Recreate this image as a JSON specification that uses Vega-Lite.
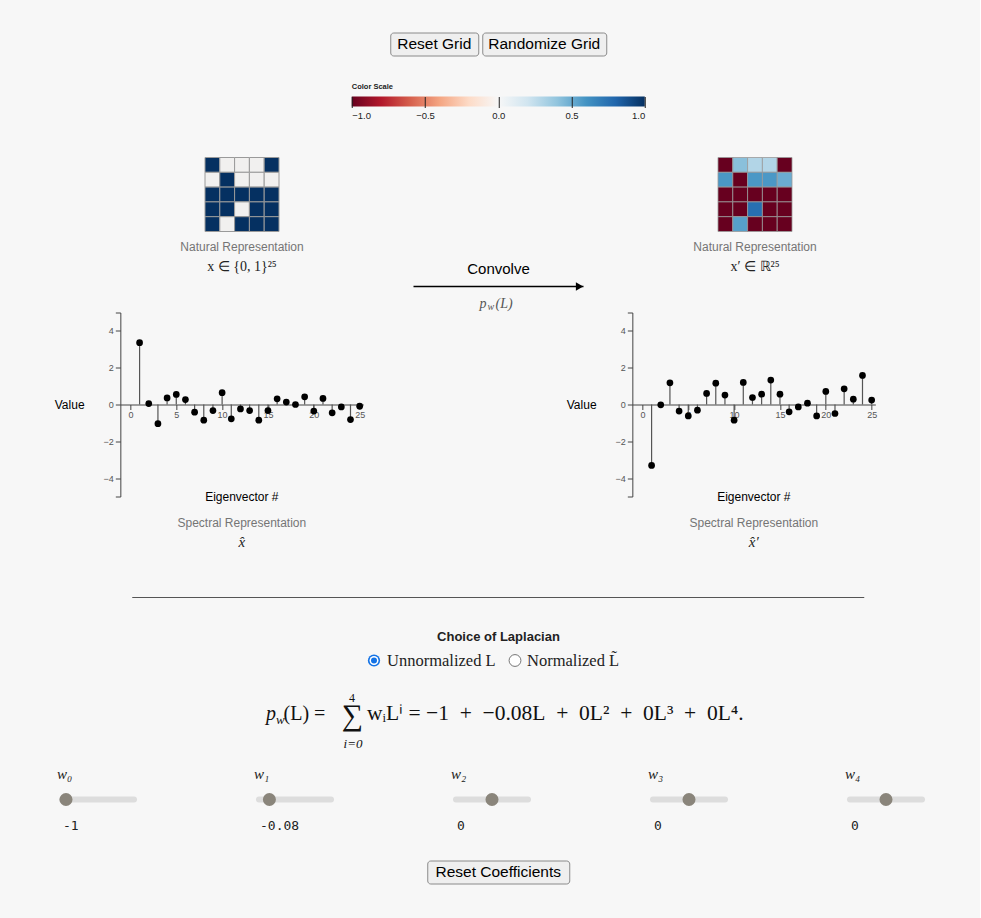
{
  "$schema": "https://vega.github.io/schema/vega-lite/v6.json",
  "background": "#f7f7f7",
  "padding": {"left": 54, "top": 31.5, "right": 42, "bottom": 34},
  "config": {
    "view": {"stroke": null},
    "font": "Liberation Sans",
    "axis": {"labelFont": "Liberation Sans", "titleFont": "Liberation Sans", "grid": false, "labelOverlap": false}
  },
  "vconcat": [
    {
      "hconcat": [
        {
          "width": 88, "height": 23,
          "view": {"fill": "#efefef", "stroke": "#8a8a8a", "cornerRadius": 3, "strokeWidth": 1},
          "data": {"values": [{"label": "Reset Grid"}]},
          "mark": {"type": "text", "fontSize": 15.5, "color": "#000"},
          "encoding": {"text": {"field": "label"}}
        },
        {
          "width": 124, "height": 23,
          "view": {"fill": "#efefef", "stroke": "#8a8a8a", "cornerRadius": 3, "strokeWidth": 1},
          "data": {"values": [{"label": "Randomize Grid"}]},
          "mark": {"type": "text", "fontSize": 15.5, "color": "#000"},
          "encoding": {"text": {"field": "label"}}
        }
      ],
      "spacing": 4, "bounds": "flush"
    },
    {
      "vconcat": [
        {
          "width": 293, "height": 10,
          "title": {"text": "Color Scale", "anchor": "start", "fontSize": 7.5, "fontWeight": "bold", "color": "#222", "offset": 6, "frame": "group"},
          "data": {"values": [{"lo": -1, "hi": 1}]},
          "mark": {"type": "rect", "fill": {"gradient": "linear", "x1": 0, "y1": 0, "x2": 1, "y2": 0, "stops": [
            {"offset": 0, "color": "#67001f"}, {"offset": 0.1, "color": "#b2182b"}, {"offset": 0.2, "color": "#d6604d"},
            {"offset": 0.3, "color": "#f4a582"}, {"offset": 0.4, "color": "#fddbc7"}, {"offset": 0.5, "color": "#f7f7f7"},
            {"offset": 0.6, "color": "#d1e5f0"}, {"offset": 0.7, "color": "#92c5de"}, {"offset": 0.8, "color": "#4393c3"},
            {"offset": 0.9, "color": "#2166ac"}, {"offset": 1, "color": "#053061"}]}},
          "encoding": {
            "x": {"field": "lo", "type": "quantitative", "scale": {"domain": [-1, 1], "nice": false},
                  "axis": {"values": [-1, -0.5, 0, 0.5, 1], "format": ".1f", "offset": -10, "tickSize": 11, "tickColor": "#222", "domain": false, "labelFontSize": 9.5, "labelColor": "#222", "title": null, "zindex": 1, "labelPadding": 3}},
            "x2": {"field": "hi"}
          }
        },
        {
          "vconcat": [
            {
              "hconcat": [
                {
                  "width": 127, "height": 74,
                  "title": {"text": "Natural Representation", "subtitle": "x ∈ {0, 1}²⁵", "orient": "bottom", "frame": "group", "offset": 10, "fontSize": 12, "fontWeight": "normal", "color": "#757575", "subtitleFont": "Liberation Serif", "subtitleFontSize": 14, "subtitleColor": "#222", "subtitlePadding": 6},
                  "data": {"values": [
                    {"r": 0, "c": 0, "v": 1}, {"r": 0, "c": 1, "v": 0}, {"r": 0, "c": 2, "v": 0}, {"r": 0, "c": 3, "v": 0}, {"r": 0, "c": 4, "v": 1},
                    {"r": 1, "c": 0, "v": 0}, {"r": 1, "c": 1, "v": 1}, {"r": 1, "c": 2, "v": 0}, {"r": 1, "c": 3, "v": 0}, {"r": 1, "c": 4, "v": 0},
                    {"r": 2, "c": 0, "v": 1}, {"r": 2, "c": 1, "v": 1}, {"r": 2, "c": 2, "v": 1}, {"r": 2, "c": 3, "v": 1}, {"r": 2, "c": 4, "v": 1},
                    {"r": 3, "c": 0, "v": 1}, {"r": 3, "c": 1, "v": 1}, {"r": 3, "c": 2, "v": 0}, {"r": 3, "c": 3, "v": 1}, {"r": 3, "c": 4, "v": 1},
                    {"r": 4, "c": 0, "v": 1}, {"r": 4, "c": 1, "v": 0}, {"r": 4, "c": 2, "v": 1}, {"r": 4, "c": 3, "v": 1}, {"r": 4, "c": 4, "v": 1}
                  ]},
                  "mark": {"type": "rect", "stroke": "#9a9a9a", "strokeWidth": 1},
                  "encoding": {
                    "x": {"field": "c", "type": "ordinal", "axis": null, "scale": {"range": [26.5, 100.5]}},
                    "y": {"field": "r", "type": "ordinal", "axis": null},
                    "color": {"field": "v", "type": "quantitative", "scale": {"domain": [-1, -0.8, -0.6, -0.4, -0.2, 0, 0.2, 0.4, 0.6, 0.8, 1], "range": ["#67001f", "#b2182b", "#d6604d", "#f4a582", "#fddbc7", "#f1f0ef", "#d1e5f0", "#92c5de", "#4393c3", "#2166ac", "#053061"], "interpolate": "rgb", "clamp": true}, "legend": null}
                  }
                },
                {
                  "width": 170, "height": 129,
                  "data": {"values": [{}]},
                  "layer": [
                    {
                      "mark": {"type": "rule", "color": "#000", "strokeWidth": 1.3},
                      "encoding": {
                        "x": {"datum": 0, "type": "quantitative", "scale": {"domain": [0, 1], "nice": false}, "axis": null},
                        "x2": {"datum": 1},
                        "y": {"datum": 0, "type": "quantitative", "scale": {"domain": [0, 1], "nice": false}, "axis": null}
                      }
                    },
                    {
                      "mark": {"type": "point", "shape": "triangle-right", "filled": true, "color": "#000", "size": 70, "opacity": 1, "xOffset": -4},
                      "encoding": {"x": {"datum": 1, "type": "quantitative"}, "y": {"datum": 0, "type": "quantitative"}}
                    },
                    {
                      "mark": {"type": "text", "text": "Convolve", "fontSize": 15, "color": "#000", "baseline": "middle"},
                      "encoding": {"x": {"datum": 0.5, "type": "quantitative"}, "y": {"datum": 0.1395, "type": "quantitative"}}
                    },
                    {
                      "mark": {"type": "text", "text": "p", "align": "left", "dx": -19, "font": "Liberation Serif", "fontStyle": "italic", "fontSize": 14, "color": "#555", "baseline": "middle"},
                      "encoding": {"x": {"datum": 0.5, "type": "quantitative"}, "y": {"datum": -0.132, "type": "quantitative"}}
                    },
                    {
                      "mark": {"type": "text", "text": "w", "align": "left", "dx": -11, "dy": 3, "font": "Liberation Serif", "fontStyle": "italic", "fontSize": 10, "color": "#555", "baseline": "middle"},
                      "encoding": {"x": {"datum": 0.5, "type": "quantitative"}, "y": {"datum": -0.132, "type": "quantitative"}}
                    },
                    {
                      "mark": {"type": "text", "text": "(L)", "align": "left", "dx": -3, "font": "Liberation Serif", "fontStyle": "italic", "fontSize": 14, "color": "#555", "baseline": "middle"},
                      "encoding": {"x": {"datum": 0.5, "type": "quantitative"}, "y": {"datum": -0.132, "type": "quantitative"}}
                    }
                  ]
                },
                {
                  "width": 127, "height": 74,
                  "title": {"text": "Natural Representation", "subtitle": "x′ ∈ ℝ²⁵", "orient": "bottom", "frame": "group", "offset": 10, "fontSize": 12, "fontWeight": "normal", "color": "#757575", "subtitleFont": "Liberation Serif", "subtitleFontSize": 14, "subtitleColor": "#222", "subtitlePadding": 6},
                  "data": {"values": [
                    {"r": 0, "c": 0, "v": -1.2}, {"r": 0, "c": 1, "v": 0.42}, {"r": 0, "c": 2, "v": 0.3}, {"r": 0, "c": 3, "v": 0.3}, {"r": 0, "c": 4, "v": -1.2},
                    {"r": 1, "c": 0, "v": 0.58}, {"r": 1, "c": 1, "v": -1.2}, {"r": 1, "c": 2, "v": 0.58}, {"r": 1, "c": 3, "v": 0.58}, {"r": 1, "c": 4, "v": 0.5},
                    {"r": 2, "c": 0, "v": -1.2}, {"r": 2, "c": 1, "v": -1.2}, {"r": 2, "c": 2, "v": -1.2}, {"r": 2, "c": 3, "v": -1.2}, {"r": 2, "c": 4, "v": -1.2},
                    {"r": 3, "c": 0, "v": -1.2}, {"r": 3, "c": 1, "v": -1.2}, {"r": 3, "c": 2, "v": 0.76}, {"r": 3, "c": 3, "v": -1.2}, {"r": 3, "c": 4, "v": -1.2},
                    {"r": 4, "c": 0, "v": -1.2}, {"r": 4, "c": 1, "v": 0.55}, {"r": 4, "c": 2, "v": -1.2}, {"r": 4, "c": 3, "v": -1.2}, {"r": 4, "c": 4, "v": -1.2}
                  ]},
                  "mark": {"type": "rect", "stroke": "#9a9a9a", "strokeWidth": 1, "strokeOpacity": 0.8},
                  "encoding": {
                    "x": {"field": "c", "type": "ordinal", "axis": null, "scale": {"range": [26.5, 100.5]}},
                    "y": {"field": "r", "type": "ordinal", "axis": null},
                    "color": {"field": "v", "type": "quantitative", "scale": {"domain": [-1, -0.8, -0.6, -0.4, -0.2, 0, 0.2, 0.4, 0.6, 0.8, 1], "range": ["#67001f", "#b2182b", "#d6604d", "#f4a582", "#fddbc7", "#f1f0ef", "#d1e5f0", "#92c5de", "#4393c3", "#2166ac", "#053061"], "interpolate": "rgb", "clamp": true}, "legend": null}
                  }
                }
              ],
              "spacing": 108, "bounds": "flush"
            },
            {
              "vconcat": [
                {
                  "hconcat": [
                    {
                      "width": 243, "height": 184,
                      "title": {"text": "Spectral Representation", "subtitle": "x̂", "orient": "bottom", "frame": "group", "offset": 15, "fontSize": 12, "fontWeight": "normal", "color": "#757575", "subtitleFont": "Liberation Serif", "subtitleFontSize": 15, "subtitleFontStyle": "italic", "subtitleColor": "#222", "subtitlePadding": 5},
                      "data": {"values": [
                        {"k": 1, "v": 3.36}, {"k": 2, "v": 0.05}, {"k": 3, "v": -1.04}, {"k": 4, "v": 0.36}, {"k": 5, "v": 0.55},
                        {"k": 6, "v": 0.27}, {"k": 7, "v": -0.42}, {"k": 8, "v": -0.85}, {"k": 9, "v": -0.33}, {"k": 10, "v": 0.64},
                        {"k": 11, "v": -0.78}, {"k": 12, "v": -0.24}, {"k": 13, "v": -0.33}, {"k": 14, "v": -0.85}, {"k": 15, "v": -0.33},
                        {"k": 16, "v": 0.31}, {"k": 17, "v": 0.13}, {"k": 18, "v": 0.0}, {"k": 19, "v": 0.42}, {"k": 20, "v": -0.36},
                        {"k": 21, "v": 0.33}, {"k": 22, "v": -0.45}, {"k": 23, "v": -0.13}, {"k": 24, "v": -0.82}, {"k": 25, "v": -0.09}
                      ]},
                      "layer": [
                        {
                          "mark": {"type": "rule", "color": "#555", "strokeWidth": 1.2},
                          "encoding": {
                            "x": {"field": "k", "type": "quantitative", "scale": {"domain": [-1.1, 25.4], "nice": false, "zero": false},
                                  "axis": {"values": [0, 5, 10, 15, 20, 25], "offset": -92, "tickSize": 5, "domainColor": "#444", "tickColor": "#444", "labelColor": "#555", "labelFontSize": 9, "title": null, "labelPadding": 1, "labelFlush": false, "labelOverlap": false}},
                            "y": {"field": "v", "type": "quantitative", "scale": {"domain": [-5, 5], "nice": false},
                                  "axis": {"values": [-5, -4, -2, 0, 2, 4, 5], "labelExpr": "abs(datum.value) == 5 ? '' : datum.label", "labelOverlap": false, "tickSize": 5, "domainColor": "#444", "tickColor": "#444", "labelColor": "#555", "labelFontSize": 9, "title": "Value", "titleAngle": 0, "titleAlign": "right", "titleBaseline": "middle", "titleFontSize": 12, "titleFontWeight": "normal", "titleColor": "#000", "titlePadding": 19}},
                            "y2": {"datum": 0}
                          }
                        },
                        {
                          "mark": {"type": "point", "filled": true, "color": "#000", "size": 45, "opacity": 1},
                          "encoding": {
                            "x": {"field": "k", "type": "quantitative"},
                            "y": {"field": "v", "type": "quantitative",
                                  "axis": {"values": [-5, -4, -2, 0, 2, 4, 5], "labelExpr": "abs(datum.value) == 5 ? '' : datum.label", "labelOverlap": false, "tickSize": 5, "domainColor": "#444", "tickColor": "#444", "labelColor": "#555", "labelFontSize": 9, "title": "Value", "titleAngle": 0, "titleAlign": "right", "titleBaseline": "middle", "titleFontSize": 12, "titleFontWeight": "normal", "titleColor": "#000", "titlePadding": 19}}
                          }
                        },
                        {
                          "data": {"values": [{"t": "Eigenvector #"}]},
                          "mark": {"type": "text", "fontSize": 12, "color": "#000", "baseline": "middle"},
                          "encoding": {
                            "x": {"datum": 12.15},
                            "y": {"datum": -5,
                                  "axis": {"values": [-5, -4, -2, 0, 2, 4, 5], "labelExpr": "abs(datum.value) == 5 ? '' : datum.label", "labelOverlap": false, "tickSize": 5, "domainColor": "#444", "tickColor": "#444", "labelColor": "#555", "labelFontSize": 9, "title": "Value", "titleAngle": 0, "titleAlign": "right", "titleBaseline": "middle", "titleFontSize": 12, "titleFontWeight": "normal", "titleColor": "#000", "titlePadding": 19}},
                            "text": {"field": "t"}
                          }
                        }
                      ]
                    },
                    {
                      "width": 243, "height": 184,
                      "title": {"text": "Spectral Representation", "subtitle": "x̂′", "orient": "bottom", "frame": "group", "offset": 15, "fontSize": 12, "fontWeight": "normal", "color": "#757575", "subtitleFont": "Liberation Serif", "subtitleFontSize": 15, "subtitleFontStyle": "italic", "subtitleColor": "#222", "subtitlePadding": 5},
                      "data": {"values": [
                        {"k": 1, "v": -3.31}, {"k": 2, "v": -0.02}, {"k": 3, "v": 1.18}, {"k": 4, "v": -0.36}, {"k": 5, "v": -0.62},
                        {"k": 6, "v": -0.31}, {"k": 7, "v": 0.6}, {"k": 8, "v": 1.16}, {"k": 9, "v": 0.51}, {"k": 10, "v": -0.85},
                        {"k": 11, "v": 1.2}, {"k": 12, "v": 0.38}, {"k": 13, "v": 0.56}, {"k": 14, "v": 1.33}, {"k": 15, "v": 0.56},
                        {"k": 16, "v": -0.4}, {"k": 17, "v": -0.13}, {"k": 18, "v": 0.07}, {"k": 19, "v": -0.62}, {"k": 20, "v": 0.71},
                        {"k": 21, "v": -0.49}, {"k": 22, "v": 0.85}, {"k": 23, "v": 0.29}, {"k": 24, "v": 1.58}, {"k": 25, "v": 0.24}
                      ]},
                      "layer": [
                        {
                          "mark": {"type": "rule", "color": "#555", "strokeWidth": 1.2},
                          "encoding": {
                            "x": {"field": "k", "type": "quantitative", "scale": {"domain": [-1.1, 25.4], "nice": false, "zero": false},
                                  "axis": {"values": [0, 5, 10, 15, 20, 25], "offset": -92, "tickSize": 5, "domainColor": "#444", "tickColor": "#444", "labelColor": "#555", "labelFontSize": 9, "title": null, "labelPadding": 1, "labelFlush": false, "labelOverlap": false}},
                            "y": {"field": "v", "type": "quantitative", "scale": {"domain": [-5, 5], "nice": false},
                                  "axis": {"values": [-5, -4, -2, 0, 2, 4, 5], "labelExpr": "abs(datum.value) == 5 ? '' : datum.label", "labelOverlap": false, "tickSize": 5, "domainColor": "#444", "tickColor": "#444", "labelColor": "#555", "labelFontSize": 9, "title": "Value", "titleAngle": 0, "titleAlign": "right", "titleBaseline": "middle", "titleFontSize": 12, "titleFontWeight": "normal", "titleColor": "#000", "titlePadding": 19}},
                            "y2": {"datum": 0}
                          }
                        },
                        {
                          "mark": {"type": "point", "filled": true, "color": "#000", "size": 45, "opacity": 1},
                          "encoding": {
                            "x": {"field": "k", "type": "quantitative"},
                            "y": {"field": "v", "type": "quantitative",
                                  "axis": {"values": [-5, -4, -2, 0, 2, 4, 5], "labelExpr": "abs(datum.value) == 5 ? '' : datum.label", "labelOverlap": false, "tickSize": 5, "domainColor": "#444", "tickColor": "#444", "labelColor": "#555", "labelFontSize": 9, "title": "Value", "titleAngle": 0, "titleAlign": "right", "titleBaseline": "middle", "titleFontSize": 12, "titleFontWeight": "normal", "titleColor": "#000", "titlePadding": 19}}
                          }
                        },
                        {
                          "data": {"values": [{"t": "Eigenvector #"}]},
                          "mark": {"type": "text", "fontSize": 12, "color": "#000", "baseline": "middle"},
                          "encoding": {
                            "x": {"datum": 12.15},
                            "y": {"datum": -5,
                                  "axis": {"values": [-5, -4, -2, 0, 2, 4, 5], "labelExpr": "abs(datum.value) == 5 ? '' : datum.label", "labelOverlap": false, "tickSize": 5, "domainColor": "#444", "tickColor": "#444", "labelColor": "#555", "labelFontSize": 9, "title": "Value", "titleAngle": 0, "titleAlign": "right", "titleBaseline": "middle", "titleFontSize": 12, "titleFontWeight": "normal", "titleColor": "#000", "titlePadding": 19}},
                            "text": {"field": "t"}
                          }
                        }
                      ]
                    }
                  ],
                  "spacing": 269, "bounds": "flush"
                },
                {
                  "vconcat": [
                    {
                      "width": 732, "height": 1,
                      "data": {"values": [{}]},
                      "mark": {"type": "rule", "color": "#555", "strokeWidth": 1},
                      "encoding": {
                        "x": {"datum": 0, "type": "quantitative", "scale": {"domain": [0, 1]}, "axis": null},
                        "x2": {"datum": 1},
                        "y": {"datum": 1, "type": "quantitative", "scale": {"domain": [0, 1]}, "axis": null}
                      }
                    },
                    {
                      "vconcat": [
                        {
                          "title": {"text": "Choice of Laplacian", "fontSize": 13, "fontWeight": "bold", "color": "#222", "anchor": "middle", "offset": 9},
                          "hconcat": [
                            {
                              "width": 132, "height": 16,
                              "data": {"values": [{"label": "Unnormalized L"}]},
                              "layer": [
                                {"mark": {"type": "point", "filled": true, "color": "#1473e6", "size": 150, "opacity": 1},
                                 "encoding": {"x": {"datum": 0, "type": "quantitative", "scale": {"domain": [0, 1], "range": [7, 132]}, "axis": null}}},
                                {"mark": {"type": "point", "filled": true, "color": "#ffffff", "size": 80, "opacity": 1},
                                 "encoding": {"x": {"datum": 0, "type": "quantitative"}}},
                                {"mark": {"type": "point", "filled": true, "color": "#1473e6", "size": 36, "opacity": 1},
                                 "encoding": {"x": {"datum": 0, "type": "quantitative"}}},
                                {"mark": {"type": "text", "align": "left", "dx": 13, "font": "Liberation Serif", "fontSize": 16.5, "color": "#222", "baseline": "middle"},
                                 "encoding": {"x": {"datum": 0, "type": "quantitative"}, "text": {"field": "label"}}}
                              ]
                            },
                            {
                              "width": 122, "height": 16,
                              "data": {"values": [{"label": "Normalized L̃"}]},
                              "layer": [
                                {"mark": {"type": "point", "filled": true, "color": "#ffffff", "size": 140, "opacity": 1, "stroke": "#767676", "strokeWidth": 1},
                                 "encoding": {"x": {"datum": 0, "type": "quantitative", "scale": {"domain": [0, 1], "range": [7, 122]}, "axis": null}}},
                                {"mark": {"type": "text", "align": "left", "dx": 12, "font": "Liberation Serif", "fontSize": 16.5, "color": "#222", "baseline": "middle"},
                                 "encoding": {"x": {"datum": 0, "type": "quantitative"}, "text": {"field": "label"}}}
                              ]
                            }
                          ],
                          "spacing": 9, "bounds": "flush"
                        },
                        {
                          "vconcat": [
                            {
                              "width": 500, "height": 28,
                              "data": {"values": [{}]},
                              "layer": [
                                {"mark": {"type": "text", "text": "p", "align": "left", "baseline": "alphabetic", "dx": -232.5, "dy": 6, "font": "Liberation Serif", "fontStyle": "italic", "fontSize": 20, "color": "#111"}, "encoding": {}},
                                {"mark": {"type": "text", "text": "w", "align": "left", "baseline": "alphabetic", "dx": -222.5, "dy": 10, "font": "Liberation Serif", "fontStyle": "italic", "fontSize": 13, "color": "#111"}, "encoding": {}},
                                {"mark": {"type": "text", "text": "(L) =", "align": "left", "baseline": "alphabetic", "dx": -215, "dy": 6, "font": "Liberation Serif", "fontSize": 20, "color": "#111"}, "encoding": {}},
                                {"mark": {"type": "text", "text": "∑", "align": "center", "baseline": "middle", "dx": -146, "dy": 2.5, "font": "Liberation Serif", "fontSize": 30, "color": "#111"}, "encoding": {}},
                                {"mark": {"type": "text", "text": "4", "align": "center", "baseline": "middle", "dx": -146.5, "dy": -16, "font": "Liberation Serif", "fontSize": 12, "color": "#111"}, "encoding": {}},
                                {"mark": {"type": "text", "text": "i=0", "align": "center", "baseline": "middle", "dx": -145.5, "dy": 30, "font": "Liberation Serif", "fontStyle": "italic", "fontSize": 13, "color": "#111"}, "encoding": {}},
                                {"mark": {"type": "text", "text": "wᵢLⁱ = −1\u2002+\u2002−0.08L\u2002+\u20020L²\u2002+\u20020L³\u2002+\u20020L⁴.", "align": "left", "baseline": "alphabetic", "dx": -131.5, "dy": 6, "font": "Liberation Serif", "fontSize": 21.5, "color": "#111"}, "encoding": {}}
                              ]
                            },
                            {
                              "vconcat": [
                                {
                                  "data": {"values": [
                                    {"name": "w₀", "value": -1, "min": -1, "max": 1, "display": "-1"},
                                    {"name": "w₁", "value": -0.08, "min": -0.1, "max": 0.1, "display": "-0.08"},
                                    {"name": "w₂", "value": 0, "min": -0.01, "max": 0.01, "display": "0"},
                                    {"name": "w₃", "value": 0, "min": -0.001, "max": 0.001, "display": "0"},
                                    {"name": "w₄", "value": 0, "min": -0.0001, "max": 0.0001, "display": "0"}
                                  ]},
                                  "facet": {"column": {"field": "name", "type": "nominal", "header": null, "sort": null}},
                                  "spacing": 106,
                                  "bounds": "flush",
                                  "resolve": {"scale": {"x": "independent"}},
                                  "spec": {
                                    "width": 91, "height": 52,
                                    "layer": [
                                      {"mark": {"type": "rule", "strokeWidth": 6, "color": "#dddddd", "xOffset": -4, "x2Offset": 4, "strokeCap": "round"},
                                       "encoding": {
                                         "x": {"field": "min", "type": "quantitative", "scale": {"range": [7, 71], "nice": false, "zero": false}, "axis": null},
                                         "x2": {"field": "max"},
                                         "y": {"datum": "track", "type": "ordinal", "scale": {"type": "point", "domain": ["label", "track", "value"], "padding": 0}, "axis": null}
                                       }},
                                      {"mark": {"type": "point", "filled": true, "size": 170, "color": "#8a857b", "opacity": 1},
                                       "encoding": {"x": {"field": "value", "type": "quantitative"}, "y": {"datum": "track", "type": "ordinal"}}},
                                      {"mark": {"type": "text", "align": "left", "dx": -9, "baseline": "middle", "font": "Liberation Serif", "fontStyle": "italic", "fontSize": 15, "color": "#222"},
                                       "encoding": {"x": {"field": "min", "type": "quantitative"}, "y": {"datum": "label", "type": "ordinal"}, "text": {"field": "name"}}},
                                      {"mark": {"type": "text", "align": "left", "dx": -3, "baseline": "middle", "font": "DejaVu Sans Mono", "fontSize": 13, "color": "#222"},
                                       "encoding": {"x": {"field": "min", "type": "quantitative"}, "y": {"datum": "value", "type": "ordinal"}, "text": {"field": "display"}}}
                                    ]
                                  }
                                },
                                {
                                  "width": 142, "height": 23,
                                  "view": {"fill": "#efefef", "stroke": "#8a8a8a", "cornerRadius": 3, "strokeWidth": 1},
                                  "data": {"values": [{"label": "Reset Coefficients"}]},
                                  "mark": {"type": "text", "fontSize": 15.5, "color": "#000"},
                                  "encoding": {"text": {"field": "label"}}
                                }
                              ],
                              "spacing": 27, "center": true
                            }
                          ],
                          "spacing": 16, "center": true
                        }
                      ],
                      "spacing": 22, "center": true
                    }
                  ],
                  "spacing": 32, "center": true
                }
              ],
              "spacing": 47, "center": true
            }
          ],
          "spacing": -4, "center": true
        }
      ],
      "spacing": 36, "center": true
    }
  ],
  "spacing": 26, "center": true
}
